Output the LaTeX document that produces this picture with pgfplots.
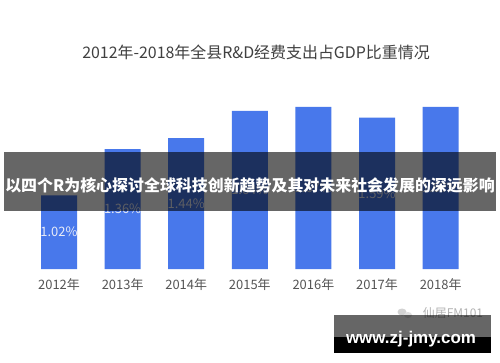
\documentclass[border=0pt]{standalone}
\usepackage{fontspec}
\usepackage{pgfplots}
\pgfplotsset{compat=1.18}
\setmainfont{Noto Sans CJK SC}
\newfontfamily\wfont{Liberation Sans}
\definecolor{barblue}{RGB}{72,120,235}
\definecolor{titlegray}{RGB}{64,64,64}
\definecolor{tickgray}{RGB}{85,85,85}
\definecolor{lblcol}{RGB}{232,236,248}
\begin{document}
\begin{tikzpicture}[x=1bp,y=1bp]
\fill[white] (0,0) rectangle (500,362);
\node[font=\fontsize{16}{16}\selectfont, text=titlegray] at (256,310) {2012年-2018年全县R\&D经费支出占GDP比重情况};
\begin{axis}[
  at={(27.2bp,93bp)}, anchor=south west, scale only axis,
  width=445.2bp, height=179.9bp,
  xmin=-0.5, xmax=6.5, ymin=0.48, ymax=1.8,
  axis line style={draw=none},
  major tick length=0pt,
  ytick=\empty,
  xtick={0,1,2,3,4,5,6},
  xticklabels={2012年,2013年,2014年,2015年,2016年,2017年,2018年},
  xticklabel style={font=\fontsize{13}{13}\selectfont, text=tickgray, yshift=-6bp},
  ybar, bar width=36bp,
  clip=false,
]
\addplot[fill=barblue, draw=none,
  visualization depends on={y \as \rawy},
  nodes near coords={\pgfmathprintnumber[fixed,precision=2,fixed zerofill,assume math mode=true]{\pgfplotspointmeta}\%},
  point meta=y,
  every node near coord/.append style={anchor=center, text=lblcol,
     font=\fontsize{13}{13}\selectfont,
     shift={(axis direction cs:0,{-(\rawy-0.48)/2})}},
] table {
x y
0 1.02
1 1.36
2 1.44
3 1.64
4 1.67
5 1.59
6 1.67
};
\end{axis}
% overlay banner
\fill[black, fill opacity=0.6] (4,151.3) rectangle (496,210);
\node[text=white, font=\bfseries\fontsize{16}{16}\selectfont, inner sep=0pt] at (250,177) {以四个R为核心探讨全球科技创新趋势及其对未来社会发展的深远影响};
% watermarks
\fill[gray!35] (402,50) ellipse (4.5 and 3.5);
\fill[gray!25] (408,47) ellipse (4 and 3);
\node[text=gray!60, font=\fontsize{12}{12}\selectfont] at (453,49) {仙居FM101};
\fill[black, fill opacity=0.6] (334,25.3) rectangle (490.7,47);
\fill[black] (334,9.3) rectangle (490.7,25.3);
\node[text=white, anchor=base, font=\wfont\bfseries\fontsize{17}{17}\selectfont] at (411,19) {www.zj-jmy.com};
\end{tikzpicture}
\end{document}
